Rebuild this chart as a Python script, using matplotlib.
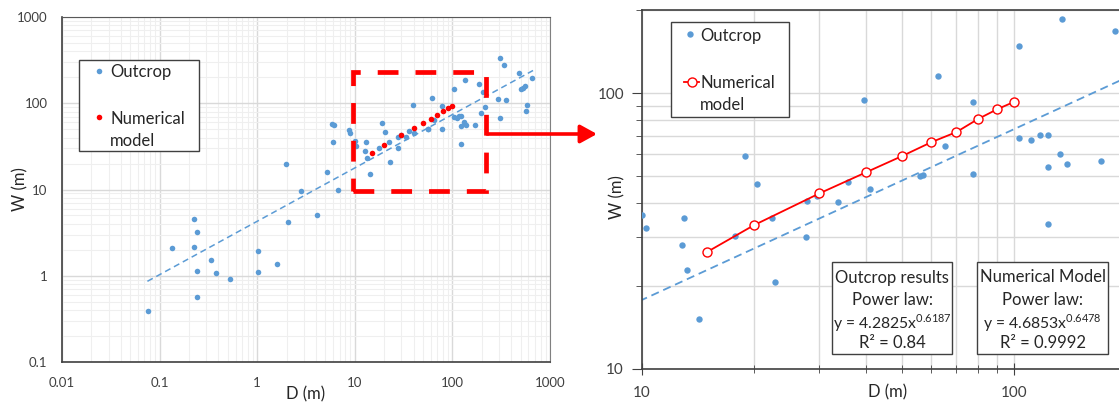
import numpy as np
import matplotlib.pyplot as plt
from matplotlib.lines import Line2D
from matplotlib.patches import Rectangle, FancyArrowPatch
from matplotlib.ticker import LogLocator, NullFormatter

plt.rcParams['font.family'] = ['Lato', 'DejaVu Sans']

# ---- data (D and W in metres) ----
outcrop_d = [0.0755, 0.134, 0.227, 0.240, 0.227, 0.240, 0.240, 0.336, 0.381, 0.526,
             1.01, 1.01, 1.58, 2.08, 1.99, 2.79, 4.1, 6.73, 5.15, 5.87,
             6.16, 6.03, 8.7, 9.0,
             10.02, 10.25, 13.0, 12.8, 13.2, 14.2, 17.8, 22.4, 22.8, 27.7,
             27.6, 33.6, 29.5, 35.7, 18.9, 20.4, 39.6, 40.9, 55.9, 56.8,
             62.4, 65.4, 77.4, 77.4, 103.3, 103.1, 111.1, 117.7, 123.4, 132.7,
             123.4, 139.1, 171.7, 134.9, 187.2, 123.4,
             198, 207, 214, 295, 305, 307, 338, 352, 477, 505,
             528, 558, 571, 581, 654]
outcrop_w = [0.39, 2.08, 4.51, 3.24, 2.17, 1.135, 0.56, 1.51, 1.085, 0.91,
             1.95, 1.105, 1.38, 4.2, 19.9, 9.7, 5.02, 9.86, 16.0, 57.4,
             56.0, 35.8, 48.5, 45.5,
             36.1, 32.4, 35.4, 28.2, 22.9, 15.2, 30.3, 35.4, 20.7, 40.7,
             30.2, 40.4, 42.4, 47.6, 59.0, 46.9, 94.6, 44.8, 50.2, 50.4,
             115.5, 64.4, 92.5, 51.0, 148.4, 68.5, 67.6, 70.4, 70.4, 60.3,
             54.1, 55.3, 56.7, 185.3, 167.7, 33.5,
             77.6, 134, 90.6, 112, 68, 337, 275, 109, 226, 145,
             151, 157, 82, 94.6, 198]

model_d = [15, 20, 30, 40, 50, 60, 70, 80, 90, 100]
model_w = [26.6, 33.2, 43.3, 51.6, 59.1, 66.4, 72.2, 80.5, 87.3, 92.9]

# outcrop power-law fit shown on the chart
fit_a, fit_b = 4.2825, 0.6187
fit_d_range = [0.075, 670]

# zoom window drawn on the left chart
zoom_d = [9.6, 222]
zoom_w = [9.7, 230]

outcrop_lines = ['Outcrop results', 'Power law:', 'y = 4.2825x$^{\\mathregular{0.6187}}$', 'R\u00b2 = 0.84']
model_lines = ['Numerical Model', 'Power law:', 'y = 4.6853x$^{\\mathregular{0.6478}}$', 'R\u00b2 = 0.9992']

blue = '#5b9bd5'
red = '#ff0000'
txt = '#262626'

fit_d = np.logspace(np.log10(fit_d_range[0]), np.log10(fit_d_range[1]), 50)
fit_w = fit_a * fit_d ** fit_b

W_PX, H_PX = 1119, 403
fig = plt.figure(figsize=(W_PX / 100, H_PX / 100), dpi=100)
ax1 = fig.add_axes([0.0554, 0.1017, 0.4361, 0.856])
ax2 = fig.add_axes([0.5737, 0.0844, 0.4263, 0.8908])


def fx(x):
    return x / W_PX


def fy(y):
    return 1 - y / H_PX


def frame(x0, y0, x1, y1):
    fig.add_artist(Rectangle((fx(x0), fy(y1)), fx(x1) - fx(x0), fy(y0) - fy(y1),
                             transform=fig.transFigure, fc='white', ec='#404040', lw=1.0))


def label(x, y, s, size=12, ha='left'):
    fig.text(fx(x), fy(y), s, fontsize=size, color=txt, ha=ha, va='center_baseline')


# ============ left chart ============
ax1.set_xscale('log')
ax1.set_yscale('log')
ax1.set_xlim(0.01, 1000)
ax1.set_ylim(0.1, 1000)
for axis in [ax1.xaxis, ax1.yaxis]:
    axis.set_minor_locator(LogLocator(base=10, subs=np.arange(2, 10), numticks=30))
    axis.set_minor_formatter(NullFormatter())
ax1.set_xticks([0.01, 0.1, 1, 10, 100, 1000], ['0.01', '0.1', '1', '10', '100', '1000'])
ax1.set_yticks([0.1, 1, 10, 100, 1000], ['0.1', '1', '10', '100', '1000'])
ax1.grid(which='major', color='#d9d9d9', lw=1.0)
ax1.grid(which='minor', color='#efefef', lw=0.8)
ax1.set_axisbelow(True)
ax1.tick_params(which='both', length=0, labelsize=9.5, colors='#404040')
ax1.tick_params(axis='x', pad=11)
ax1.tick_params(axis='y', pad=10.5)
for s in ['left', 'bottom']:
    ax1.spines[s].set_color('#404040')
    ax1.spines[s].set_linewidth(1.2)
ax1.spines['top'].set_color('#595959')
ax1.spines['right'].set_color('#808080')

ax1.plot(fit_d, fit_w, ls=(0, (4, 2.6)), color=blue, lw=1.1, zorder=2)
ax1.plot(outcrop_d, outcrop_w, ls='none', marker='o', ms=4, mew=0, color=blue, zorder=3)
ax1.plot(model_d, model_w, ls='none', marker='o', ms=4, mew=0, color=red, zorder=4)

ax1.add_patch(Rectangle((zoom_d[0], zoom_w[0]), zoom_d[1] - zoom_d[0], zoom_w[1] - zoom_w[0],
                        fill=False, ec=red, lw=3.4, ls=(0, (4.4, 3.6)), zorder=5))

ax1.set_xlabel('D (m)', fontsize=12, color=txt)
ax1.set_ylabel('W (m)', fontsize=12, color=txt)
ax1.xaxis.set_label_coords(0.5, -0.07)
ax1.yaxis.set_label_coords(-0.068, 0.5)

# legend (left)
frame(79, 60, 199, 151)
fig.add_artist(Line2D([fx(99)], [fy(71)], transform=fig.transFigure, ls='none',
                      marker='o', ms=4, mew=0, color=blue))
label(110, 71, 'Outcrop')
fig.add_artist(Line2D([fx(99)], [fy(117)], transform=fig.transFigure, ls='none',
                      marker='o', ms=4, mew=0, color=red))
label(110, 117, 'Numerical')
label(110, 139, 'model')

# ============ right chart (zoom) ============
ax2.set_xscale('log')
ax2.set_yscale('log')
ax2.set_xlim(10, 191.5)
ax2.set_ylim(10, 200)
for axis in [ax2.xaxis, ax2.yaxis]:
    axis.set_minor_locator(LogLocator(base=10, subs=np.arange(2, 10), numticks=30))
    axis.set_minor_formatter(NullFormatter())
ax2.set_xticks([10, 100], ['10', '100'])
ax2.set_yticks([10, 100], ['10', '100'])
ax2.grid(which='both', color='#d9d9d9', lw=1.0)
ax2.set_axisbelow(True)
ax2.spines['right'].set_visible(False)
for s in ['left', 'bottom', 'top']:
    ax2.spines[s].set_color('#404040')
    ax2.spines[s].set_linewidth(1.2)
ax2.tick_params(which='both', labelsize=11, colors='#404040')
ax2.tick_params(axis='x', which='major', direction='inout', length=8, pad=8)
ax2.tick_params(axis='x', which='minor', direction='inout', length=6)
ax2.tick_params(axis='y', which='major', direction='out', length=7, pad=6)
ax2.tick_params(axis='y', which='minor', direction='out', length=4)

ax2.plot(fit_d, fit_w, ls=(0, (4.5, 2.7)), color=blue, lw=1.3, zorder=2)
ax2.plot(outcrop_d, outcrop_w, ls='none', marker='o', ms=4.6, mew=0, color=blue, zorder=3)
ax2.plot(model_d, model_w, ls='-', lw=1.3, color=red, marker='o', ms=6.5,
         mfc='white', mec=red, mew=1.0, zorder=4)

ax2.set_xlabel('D (m)', fontsize=12, color=txt)
ax2.set_ylabel('W (m)', fontsize=12, color=txt)
ax2.xaxis.set_label_coords(0.514, -0.042)
ax2.yaxis.set_label_coords(-0.035, 0.48)

# legend (right)
frame(671, 22, 789, 117)
fig.add_artist(Line2D([fx(690)], [fy(34)], transform=fig.transFigure, ls='none',
                      marker='o', ms=4.6, mew=0, color=blue))
label(700, 34, 'Outcrop')
fig.add_artist(Line2D([fx(684), fx(699)], [fy(82), fy(82)], transform=fig.transFigure,
                      lw=1.3, color=red))
fig.add_artist(Line2D([fx(691.5)], [fy(82)], transform=fig.transFigure, ls='none',
                      marker='o', ms=6.5, mfc='white', mec=red, mew=1.0))
label(700, 82, 'Numerical')
label(700, 104, 'model')

# power-law boxes
line_y = [276, 298.5, 320.5, 341.5]
line_size = [12, 12, 11.3, 12]
frame(832, 262, 952, 354)
frame(977, 262, 1108, 354)
for s, y, size in zip(outcrop_lines, line_y, line_size):
    label(892, y, s, size=size, ha='center')
for s, y, size in zip(model_lines, line_y, line_size):
    label(1042.5, y, s, size=size, ha='center')

# arrow from the zoom window to the right chart
arrow = FancyArrowPatch((fx(487), fy(134)), (fx(597), fy(134)),
                        transform=fig.transFigure, arrowstyle='-|>,head_length=1.0,head_width=0.55',
                        color=red, lw=2.6, shrinkA=0, shrinkB=0, mutation_scale=10)
fig.add_artist(arrow)

fig.savefig('out.png', dpi=100)
